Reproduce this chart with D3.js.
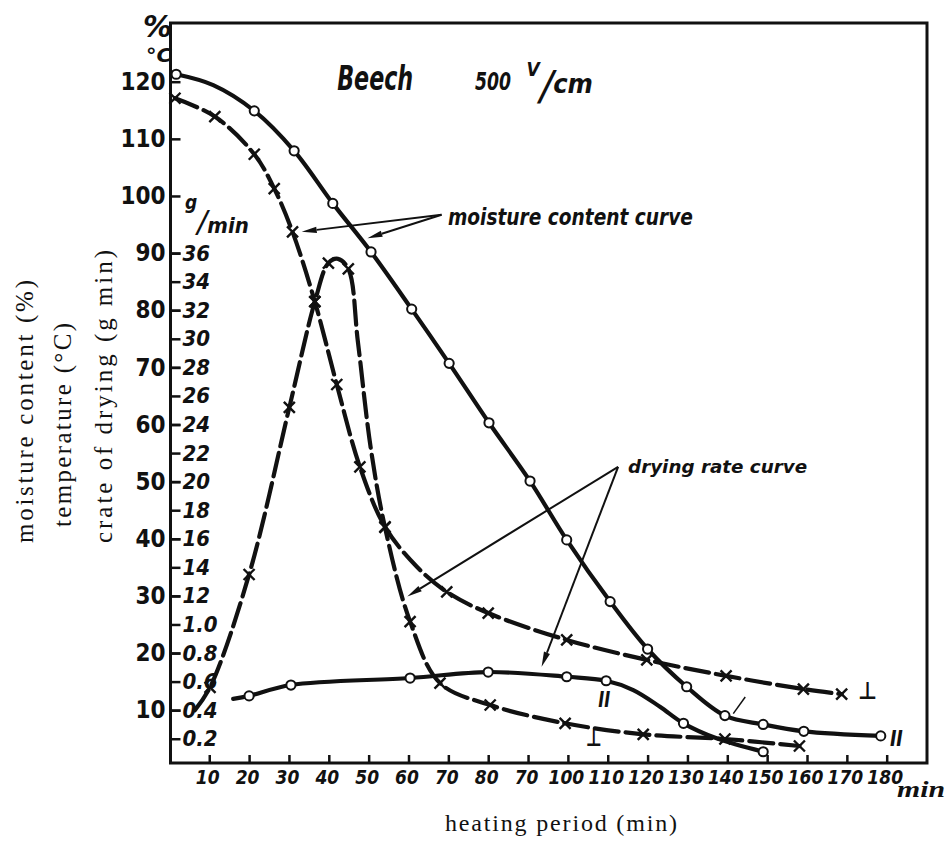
<!DOCTYPE html>
<html><head><meta charset="utf-8">
<script src="https://cdn.jsdelivr.net/npm/d3@7"></script>
<style>
body{margin:0;background:#fff}
text{fill:#111}
.tk{font-family:"Liberation Sans Narrow","DejaVu Sans Condensed","Arial Narrow",sans-serif;font-weight:bold}
.hw{font-family:"DejaVu Sans Condensed","DejaVu Sans",sans-serif;font-style:italic;font-weight:bold}
.sl{font-family:"DejaVu Sans",sans-serif;font-weight:normal;font-style:italic}
.sf{font-family:"Liberation Serif","DejaVu Serif",serif}
</style>
</head><body><svg id="c" width="950" height="842"></svg>
<script>
// ---------- data ----------
const xTickValues = [10,20,30,40,50,60,70,80,90,100,110,120,130,140,150,160,170,180];
const xTickLabels = ["10","20","30","40","50","60","70","80","70","100","110","120","130","140","150","160","170","180"];
const leftTickValues = [10,20,30,40,50,60,70,80,90,100,110,120];
const rateTickValues = [2,4,6,8,10,12,14,16,18,20,22,24,26,28,30,32,34,36];
const rateTickLabels = ["0.2","0.4","0.6","0.8","1.0","12","14","16","18","20","22","24","26","28","30","32","34","36"];

// [time (min), value, marker(1)/none(0)]
// moisture content (%) – circles, solid ("II")
const moistureII = [[1.7,121.3,1],[11.0,119.4,0],[21.3,114.9,1],[31.3,107.9,1],[41.0,98.7,1],[50.6,90.2,1],[60.8,80.2,1],[70.2,70.7,1],[80.2,60.3,1],[90.5,50.1,1],[99.7,39.8,1],[110.6,29.0,1],[120.0,20.7,1],[129.8,14.1,1],[139.4,9.05,1],[149.0,7.5,1],[159.2,6.3,1],[178.5,5.5,1]];
// moisture content (%) – crosses, dashed ("⊥")
const moistureT = [[1.4,117.1,1],[11.4,113.9,1],[21.3,107.3,1],[26.3,101.3,1],[30.9,93.7,1],[36.5,81.5,1],[42.0,67.0,1],[47.8,52.6,1],[54.1,42.1,1],[62.1,35.1,0],[69.6,30.7,1],[80.0,27.0,1],[99.7,22.3,1],[119.8,18.8,1],[139.7,16.0,1],[159.1,13.7,1],[168.7,12.8,1]];
// drying rate (g/min) – crosses, dashed ("⊥")
const rateT = [[6.4,4.0,0],[10.2,5.6,1],[20.0,13.5,1],[30.1,25.2,1],[36.5,32.6,1],[39.9,35.3,1],[42.3,35.6,0],[44.9,34.9,1],[47.3,29.8,0],[50.5,22.4,0],[54.1,16.8,1],[60.4,10.2,1],[67.9,5.9,1],[80.5,4.36,1],[99.3,3.08,1],[118.9,2.31,1],[139.4,1.98,1],[158.1,1.49,1]];
// drying rate (g/min) – circles, solid ("II")
const rateII = [[16.0,4.79,0],[20.0,5.0,1],[30.5,5.76,1],[60.4,6.25,1],[80.0,6.67,1],[99.7,6.34,1],[109.6,6.06,1],[116.4,5.41,0],[123.1,4.24,0],[129.0,3.08,1],[137.3,2.03,0],[149.0,1.09,1]];

// ---------- scales ----------
const svg = d3.select("#c");
const x = d3.scaleLinear().domain([0,180]).range([169.4,886.7]);
const y = d3.scaleLinear().domain([0,120]).range([767.3,81.7]);
const r = d3.scaleLinear().domain([0,48]).range([767.3,81.7]);
const L=170.5, R=927, T=23, B=763;

// frame
svg.append("path").attr("d",`M${L},${T}H${R}V${B}H${L}Z`).attr("fill","none").attr("stroke","#111").attr("stroke-width",3);

// x axis
const gx = svg.append("g").attr("transform",`translate(0,${B})`)
  .call(d3.axisBottom(x).tickValues(xTickValues).tickFormat((d,i)=>xTickLabels[i]).tickSizeInner(-8).tickSizeOuter(0).tickPadding(8));
gx.select(".domain").remove();
gx.selectAll("line").attr("stroke","#111").attr("stroke-width",2.5);
gx.selectAll("text").attr("class","tk").attr("font-size",19).attr("font-style","italic").attr("dx",-2).attr("fill","#111");

// left axis (moisture / temperature)
const gl = svg.append("g").attr("transform",`translate(${L},0)`)
  .call(d3.axisLeft(y).tickValues(leftTickValues).tickSizeInner(-10).tickSizeOuter(0).tickPadding(5));
gl.select(".domain").remove();
gl.selectAll("line").attr("stroke","#111").attr("stroke-width",2.5);
gl.selectAll("text").attr("class","tk").attr("font-size",24).attr("fill","#111");

// rate axis (g/min), labels inside
const gr = svg.append("g").attr("transform",`translate(${L},0)`)
  .call(d3.axisRight(r).tickValues(rateTickValues).tickFormat((d,i)=>rateTickLabels[i]).tickSizeInner(10).tickSizeOuter(0).tickPadding(2));
gr.select(".domain").remove();
gr.selectAll("line").attr("stroke","#111").attr("stroke-width",2.5);
gr.selectAll("text").attr("class","tk").attr("font-size",22).attr("font-style","italic").attr("fill","#111");

// ---------- curves ----------
const lineM = d3.line().x(d=>x(d[0])).y(d=>y(d[1])).curve(d3.curveCatmullRom.alpha(0.5));
const lineR = d3.line().x(d=>x(d[0])).y(d=>r(d[1])).curve(d3.curveCatmullRom.alpha(0.5));

function drawCurve(data, gen, dash){
  svg.append("path").attr("d",gen(data)).attr("fill","none").attr("stroke","#111")
    .attr("stroke-width",4.2).attr("stroke-linecap","round").attr("stroke-dasharray",dash||null);
}
drawCurve(moistureII, lineM);
drawCurve(moistureT, lineM, "24,7");
drawCurve(rateT, lineR, "24,7");
drawCurve(rateII, lineR);

function crosses(data, ys){
  svg.append("g").selectAll("path").data(data.filter(d=>d[2])).join("path")
    .attr("transform",d=>`translate(${x(d[0])},${ys(d[1])})`)
    .attr("d","M-5.5,-5.5L5.5,5.5M-5.5,5.5L5.5,-5.5")
    .attr("stroke","#111").attr("stroke-width",2.4).attr("fill","none");
}
function circles(data, ys){
  svg.append("g").selectAll("circle").data(data.filter(d=>d[2])).join("circle")
    .attr("cx",d=>x(d[0])).attr("cy",d=>ys(d[1])).attr("r",4.6)
    .attr("fill","#fff").attr("stroke","#111").attr("stroke-width",2);
}
crosses(moistureT, y);
crosses(rateT, r);
circles(moistureII, y);
circles(rateII, r);

// ---------- annotations ----------
function arrow(t1,v1,t2,v2){
  const x1=x(t1),y1=y(v1),x2=x(t2),y2=y(v2);
  const a=Math.atan2(y2-y1,x2-x1), len=15, w=3.2;
  const bx=x2-len*Math.cos(a), by=y2-len*Math.sin(a);
  svg.append("line").attr("x1",x1).attr("y1",y1).attr("x2",bx).attr("y2",by).attr("stroke","#111").attr("stroke-width",2);
  svg.append("path").attr("d",`M${x2},${y2}L${bx+w*Math.sin(a)},${by-w*Math.cos(a)}L${bx-w*Math.sin(a)},${by+w*Math.cos(a)}Z`).attr("fill","#111");
}
arrow(68.3,96.7,33.2,93.75);
arrow(68.3,96.7,49.7,92.6);
arrow(112.6,52.6,59.7,29.9);
arrow(112.6,52.6,93.4,17.6);
// small pointer stroke
svg.append("line").attr("x1",x(144.5)).attr("y1",y(12.3)).attr("x2",x(141.5)).attr("y2",y(9.4)).attr("stroke","#111").attr("stroke-width",1.5);

function txt(s,px,py,cls,size,opts={}){
  const t=svg.append("text").attr("x",px).attr("y",py).attr("class",cls).attr("font-size",size).text(s);
  if(opts.len) t.attr("textLength",opts.len).attr("lengthAdjust",opts.adj||"spacingAndGlyphs");
  if(opts.anchor) t.attr("text-anchor",opts.anchor);
  if(opts.rot) t.attr("transform",`rotate(-90,${px},${py})`);
  if(opts.weight) t.attr("font-weight",opts.weight);
  return t;
}
// title
txt("Beech", x(42.1), y(118.6), "hw", 33, {len:76, weight:600});
txt("500", x(76.7), y(118.6), "hw", 25, {len:36});
// "V/cm" as one text with tspans
const vcm = svg.append("text").attr("x",x(89.6)).attr("y",y(121.0)).attr("class","hw");
vcm.append("tspan").attr("font-size",19).text("V");
vcm.append("tspan").attr("class","sl").attr("font-size",40).attr("dy",y(116.8)-y(121.0)).text("/");
vcm.append("tspan").attr("font-size",27).attr("dy",y(118.1)-y(116.8)).text("cm");

txt("moisture content curve", x(69.9), y(94.9), "hw", 23, {len:245});
txt("drying rate curve", x(115.1), y(51.5), "hw", 18, {len:179});
// unit marks
txt("%", 143, 37, "hw", 30, {len:29});
txt("°C", 146, 62, "hw", 19, {len:26});
const gmin = svg.append("text").attr("x",185).attr("y",209).attr("class","hw");
gmin.append("tspan").attr("font-size",19).text("g");
gmin.append("tspan").attr("class","sl").attr("font-size",30).attr("dy",23).text("/");
gmin.append("tspan").attr("font-size",22).attr("dy",1).text("min");
txt("min", 897, 797, "sf", 24, {len:48}).attr("font-style","italic").attr("font-weight","bold");
// curve tags
txt("II", x(107.6), y(10.6), "hw", 21, {len:12});
txt("⊥", x(172.8), y(12.0), "hw", 24, {len:19, weight:"normal"});
txt("⊥", x(104.5), y(3.8), "hw", 24, {len:16, weight:"normal"});
txt("II", x(180.8), y(3.8), "hw", 21, {len:13});
// axis titles
txt("heating period (min)", 561, 831, "sf", 24, {len:232, anchor:"middle", adj:"spacing"});
txt("moisture content (%)", 33, 411.5, "sf", 25, {len:263, anchor:"middle", adj:"spacing", rot:true});
txt("temperature (°C)", 71, 425, "sf", 25, {len:204, anchor:"middle", adj:"spacing", rot:true});
txt("crate of drying (g min)", 112, 396.5, "sf", 25, {len:293, anchor:"middle", adj:"spacing", rot:true});
</script>
</body></html>
